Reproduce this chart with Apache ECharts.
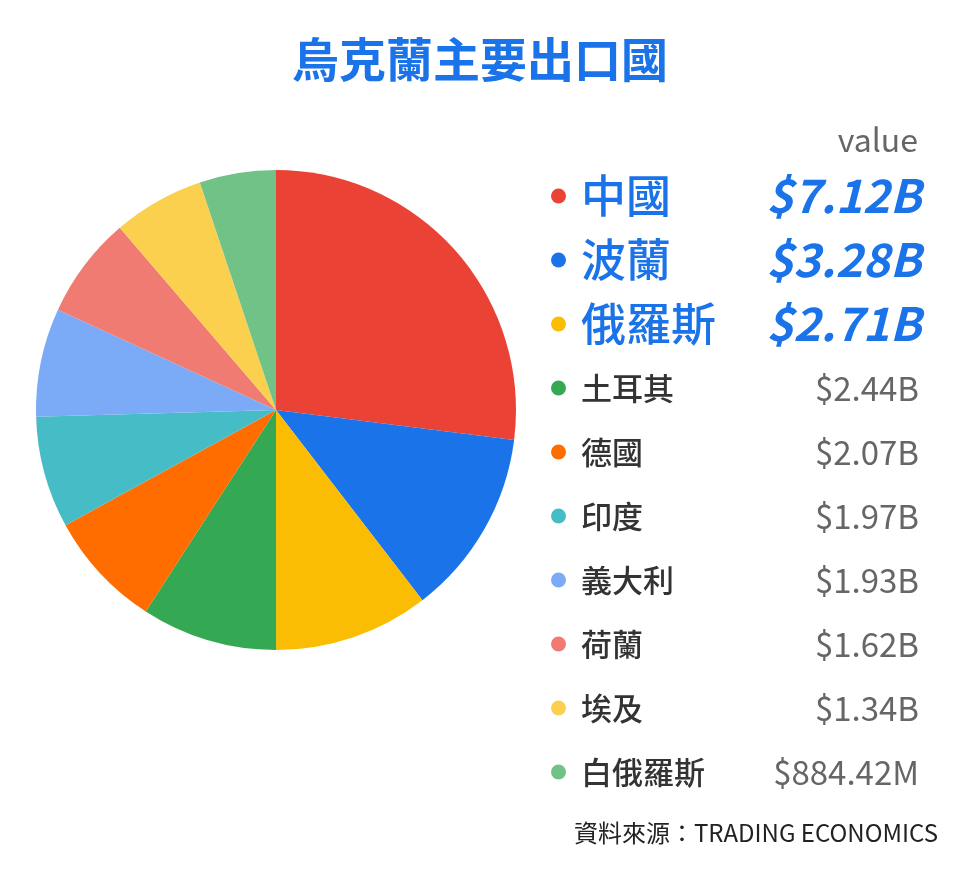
<!DOCTYPE html>
<html>
<head>
<meta charset="utf-8">
<script src="https://cdn.jsdelivr.net/npm/echarts@6/dist/echarts.min.js"></script>
<style>html,body{margin:0;padding:0;background:#fff}#c{width:960px;height:880px}</style>
</head>
<body>
<div id="c"></div>
<script>
const countries = ['中國','波蘭','俄羅斯','土耳其','德國','印度','義大利','荷蘭','埃及','白俄羅斯'];
// values shown in the legend (USD billions)
const values = [7.12, 3.28, 2.71, 2.44, 2.07, 1.97, 1.93, 1.62, 1.34, 0.88442];
const valueLabels = ['$7.12B','$3.28B','$2.71B','$2.44B','$2.07B','$1.97B','$1.93B','$1.62B','$1.34B','$884.42M'];
// slice shares (%)
const pieShares = [27.0, 12.56, 10.44, 9.14, 7.89, 7.53, 7.31, 6.86, 6.14, 5.14];
const colors = ['#EA4335','#1A73E8','#FBBC04','#34A853','#FF6D01','#46BDC6','#7BAAF7','#F07B72','#FCD04F','#71C287'];

const FONT = '"Noto Sans CJK TC","Noto Sans",sans-serif';
const chart = echarts.init(document.getElementById('c'));
chart.setOption({
  backgroundColor: '#fff',
  color: colors,
  title: [{
    text: '烏克蘭主要出口國',
    left: 'center', top: 31,
    textStyle: { color: '#1A73E8', fontSize: 47, fontWeight: 'bold', fontFamily: FONT }
  }, {
    text: 'value', right: 37, top: 119,
    textStyle: { color: '#666', fontSize: 32, fontWeight: 'normal', fontFamily: FONT }
  }, {
    text: '資料來源：TRADING ECONOMICS', right: 17, top: 816,
    textStyle: { color: '#222', fontSize: 24, fontWeight: 'normal', fontFamily: FONT }
  }],
  legend: {
    orient: 'vertical', left: 546, top: 159,
    itemWidth: 15, itemHeight: 15, itemGap: 0,
    icon: 'circle',
    selectedMode: false,
    data: countries.map(n => ({ name: n })),
    formatter: function (name) {
      const i = countries.indexOf(name);
      return i < 3 ? '{nb|' + name + '}{vb|' + valueLabels[i] + '}'
                   : '{n|' + name + '}{v|' + valueLabels[i] + '}';
    },
    textStyle: {
      fontFamily: FONT,
      rich: {
        nb: { fontSize: 45, color: '#1A73E8', fontWeight: 500, width: 168, padding: [0,0,0,10], height: 64, lineHeight: 64, fontFamily: FONT },
        vb: { fontSize: 46, color: '#1A73E8', fontWeight: 'bold', fontStyle: 'italic', width: 172, align: 'right', height: 64, lineHeight: 64, fontFamily: FONT },
        n: { fontSize: 31, color: '#333', fontWeight: 500, width: 168, padding: [0,0,0,10], height: 64, lineHeight: 64, fontFamily: FONT },
        v: { fontSize: 33, color: '#666', width: 170, align: 'right', height: 64, lineHeight: 64, fontFamily: FONT }
      }
    }
  },
  series: [{
    type: 'pie',
    center: [276, 410],
    radius: 240,
    startAngle: 90,
    clockwise: true,
    label: { show: false },
    labelLine: { show: false },
    silent: true,
    animation: false,
    data: countries.map((n, i) => ({ name: n, value: pieShares[i] }))
  }]
});
</script>
</body>
</html>
